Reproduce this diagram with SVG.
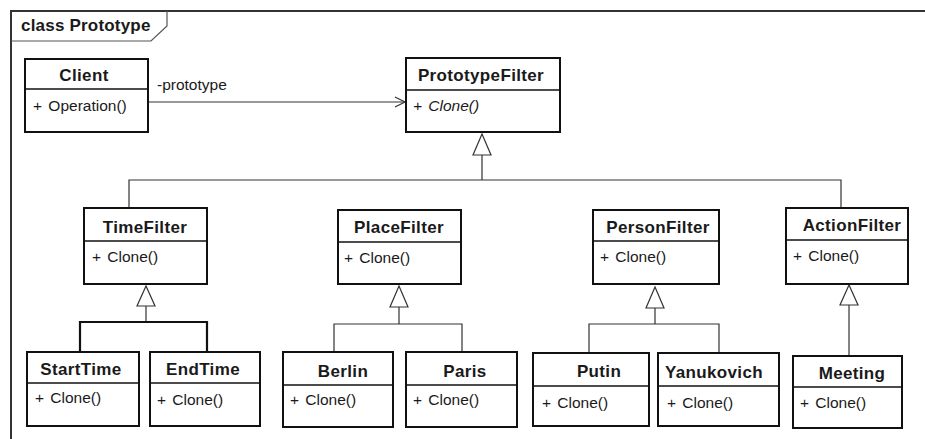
<svg xmlns="http://www.w3.org/2000/svg" width="925" height="439" viewBox="0 0 925 439">
<style>
.box{fill:#fff;stroke:#111;stroke-width:2}
.div{stroke:#111;stroke-width:1.5}
.t{font-family:"Liberation Sans",Arial,sans-serif;font-size:17px;font-weight:bold;letter-spacing:0.35px;text-anchor:middle;fill:#1a1a1a}
.op{font-family:"Liberation Sans",Arial,sans-serif;font-size:15.5px;word-spacing:2px;fill:#1a1a1a}
.c{fill:none;stroke:#333;stroke-width:1.2}
.ck{fill:none;stroke:#111;stroke-width:2.2}
.tri{fill:#fff;stroke:#333;stroke-width:1.2}
</style>
<rect width="925" height="439" fill="#fff"/>
<g id="frame">
<path d="M11 439 V11 H925" fill="none" stroke="#333" stroke-width="2"/>
<path d="M11 41 H151 L167 26 V11" fill="none" stroke="#555" stroke-width="1.2"/>
<text x="21" y="31" style="font-family:'Liberation Sans',Arial,sans-serif;font-size:17px;font-weight:bold;letter-spacing:0.2px;fill:#1a1a1a">class Prototype</text>
</g>
<g id="connectors">
<path class="c" d="M148 102 H405"/>
<path class="c" d="M395 97 L405 102 L395 107"/>
<text class="op" x="157" y="90">-prototype</text>
<path class="c" d="M482 155 V180 M129 208 V180 H841 V208"/>
<polygon class="tri" points="482,134 473,155 491,155"/>
<path class="c" d="M146 306 V322"/>
<path class="ck" d="M80 352 V322 H207 V352"/>
<polygon class="tri" points="146,286 137,306 155,306"/>
<path class="c" d="M399 307 V324 M334 352 V324 H462 V352"/>
<polygon class="tri" points="399,286 390,307 408,307"/>
<path class="c" d="M655 308 V324 M589 353 V324 H719 V353"/>
<polygon class="tri" points="655,287 646,308 664,308"/>
<path class="c" d="M849 305 V356"/>
<polygon class="tri" points="849,285 840,305 858,305"/>
</g>
<g id="Client">
<rect class="box" x="25" y="59" width="123" height="73"/>
<line class="div" x1="25" y1="89" x2="148" y2="89"/>
<text class="t" x="84" y="81">Client</text>
<text class="op" x="33" y="111">+ Operation()</text>
</g>
<g id="PrototypeFilter">
<rect class="box" x="406" y="58" width="154" height="74"/>
<line class="div" x1="406" y1="90" x2="560" y2="90"/>
<text class="t" x="481" y="81">PrototypeFilter</text>
<text class="op" x="413" y="111" font-style="italic">+ Clone()</text>
</g>
<g id="TimeFilter">
<rect class="box" x="84" y="208" width="123" height="76"/>
<line class="div" x1="84" y1="241" x2="207" y2="241"/>
<text class="t" x="145" y="233">TimeFilter</text>
<text class="op" x="92" y="262">+ Clone()</text>
</g>
<g id="PlaceFilter">
<rect class="box" x="338" y="210" width="123" height="74"/>
<line class="div" x1="338" y1="242" x2="461" y2="242"/>
<text class="t" x="399" y="233">PlaceFilter</text>
<text class="op" x="344" y="263">+ Clone()</text>
</g>
<g id="PersonFilter">
<rect class="box" x="593" y="210" width="126" height="74"/>
<line class="div" x1="593" y1="241" x2="719" y2="241"/>
<text class="t" x="658" y="233">PersonFilter</text>
<text class="op" x="600" y="262">+ Clone()</text>
</g>
<g id="ActionFilter">
<rect class="box" x="786" y="208" width="122" height="76"/>
<line class="div" x1="786" y1="240" x2="908" y2="240"/>
<text class="t" x="852" y="231">ActionFilter</text>
<text class="op" x="793" y="261">+ Clone()</text>
</g>
<g id="StartTime">
<rect class="box" x="27" y="352" width="112" height="74"/>
<line class="div" x1="27" y1="383" x2="139" y2="383"/>
<text class="t" x="81" y="375">StartTime</text>
<text class="op" x="35" y="403">+ Clone()</text>
</g>
<g id="EndTime">
<rect class="box" x="150" y="352" width="110" height="74"/>
<line class="div" x1="150" y1="383" x2="260" y2="383"/>
<text class="t" x="203" y="375">EndTime</text>
<text class="op" x="157" y="405">+ Clone()</text>
</g>
<g id="Berlin">
<rect class="box" x="283" y="352" width="110" height="75"/>
<line class="div" x1="283" y1="385" x2="393" y2="385"/>
<text class="t" x="343" y="377">Berlin</text>
<text class="op" x="290" y="405">+ Clone()</text>
</g>
<g id="Paris">
<rect class="box" x="406" y="352" width="111" height="75"/>
<line class="div" x1="406" y1="385" x2="517" y2="385"/>
<text class="t" x="465" y="377">Paris</text>
<text class="op" x="413" y="405">+ Clone()</text>
</g>
<g id="Putin">
<rect class="box" x="533" y="353" width="116" height="73"/>
<line class="div" x1="533" y1="386" x2="649" y2="386"/>
<text class="t" x="599" y="377">Putin</text>
<text class="op" x="542" y="408">+ Clone()</text>
</g>
<g id="Yanukovich">
<rect class="box" x="658" y="353" width="121" height="73"/>
<line class="div" x1="658" y1="386" x2="779" y2="386"/>
<text class="t" x="714" y="378">Yanukovich</text>
<text class="op" x="667" y="408">+ Clone()</text>
</g>
<g id="Meeting">
<rect class="box" x="793" y="356" width="109" height="72"/>
<line class="div" x1="793" y1="387" x2="902" y2="387"/>
<text class="t" x="852" y="379">Meeting</text>
<text class="op" x="800" y="408">+ Clone()</text>
</g>
</svg>
